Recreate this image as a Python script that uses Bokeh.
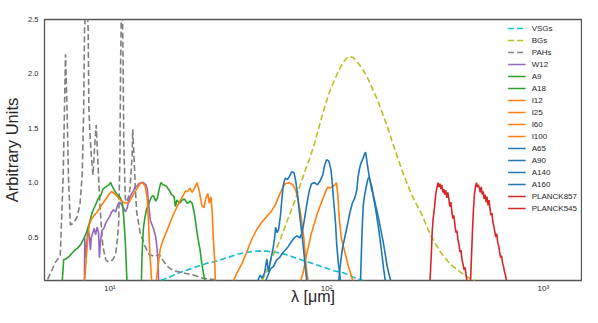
from bokeh.plotting import figure
from bokeh.models import FixedTicker, Legend, LegendItem, Range1d
from bokeh.embed import file_html
from bokeh.resources import INLINE

# ---------------- data: (wavelength [um], arbitrary units) ----------------
vsgs = [(17.2,0.10),(18.8,0.13),(20.8,0.17),(23.0,0.20),(25.5,0.23),(28.3,0.26),(31.4,0.28),
        (34.8,0.31),(38.6,0.34),(42.8,0.36),(47.4,0.37),(52.5,0.37),(58.2,0.36),(64.5,0.34),
        (71.6,0.31),(79.3,0.28),(88.0,0.25),(97.5,0.22),(108,0.19),(120,0.17),(133,0.13),(147,0.10)]
bgs = [(50.4,0.10),(52.5,0.17),(55.3,0.29),(58.2,0.38),(61.3,0.48),(64.5,0.60),(67.9,0.72),
       (71.6,0.84),(75.4,0.97),(79.3,1.10),(83.6,1.22),(88.0,1.36),(92.6,1.52),(97.5,1.68),
       (102.6,1.82),(108.1,1.93),(113.8,2.03),(119.7,2.11),(126.1,2.16),(132.8,2.15),(139.7,2.10),
       (147.2,2.04),(154.9,1.96),(163.2,1.86),(171.8,1.76),(180.8,1.64),(190.5,1.52),(200.5,1.38),
       (222.3,1.12),(246.5,0.89),(273.2,0.72),(302.9,0.51),(335.7,0.36),(371.9,0.25),(412.2,0.18),
       (457,0.12),(485,0.10)]
pahs = [(5.17,0.11),(5.45,0.21),(5.62,0.27),(5.73,0.29),(5.91,0.33),(6.10,1.07),(6.25,2.18),
        (6.36,1.65),(6.45,1.05),(6.58,0.61),(6.81,0.63),(7.05,0.68),(7.29,0.80),(7.46,1.07),
        (7.57,1.60),(7.65,2.40),(7.73,2.60),(7.85,2.70),(7.95,2.40),(8.01,1.69),(8.09,1.47),
        (8.22,1.25),(8.37,1.07),(8.52,1.34),(8.66,1.53),(8.79,1.25),(8.96,0.89),(9.12,0.63),
        (9.30,0.41),(9.59,0.29),(9.90,0.27),(10.31,0.29),(10.64,0.34),(10.86,0.49),(11.0,0.64),
        (11.14,1.25),(11.23,2.14),(11.31,2.60),(11.43,2.60),(11.52,2.14),(11.61,1.34),(11.80,0.85),
        (12.04,0.82),(12.4,0.94),(12.68,1.25),(12.76,1.49),(12.87,1.34),(13.1,0.98),(13.3,0.74),
        (13.8,0.54),(14.5,0.42),(15.2,0.34),(16.1,0.32),(16.9,0.34),(17.4,0.30),(18.4,0.23),
        (19.7,0.19),(21.9,0.17),(24.3,0.15),(26.9,0.12),(29.8,0.11),(32.0,0.10)]
w12 = [(7.64,0.10),(7.67,0.49),(7.73,0.31),(7.81,0.40),(7.93,0.57),(8.05,0.52),(8.14,0.38),
       (8.22,0.49),(8.35,0.54),(8.48,0.58),(8.61,0.52),(8.75,0.59),(8.88,0.54),(8.96,0.31),
       (9.07,0.47),(9.21,0.56),(9.40,0.58),(9.59,0.63),(9.79,0.66),(10.0,0.69),(10.2,0.73),
       (10.4,0.75),(10.64,0.73),(10.86,0.79),(11.08,0.82),(11.31,0.80),(11.55,0.77),(11.80,0.73),
       (12.04,0.77),(12.29,0.85),(12.55,0.89),(12.81,0.92),(13.1,0.96),(13.4,0.97),(13.6,0.99),
       (13.9,1.00),(14.3,1.00),(14.7,0.98),(14.9,0.94),(15.1,0.81),(15.4,0.65),(15.9,0.58),
       (16.3,0.50),(16.5,0.41),(16.7,0.27),(16.8,0.10)]
a9 = [(6.04,0.10),(6.13,0.29),(6.29,0.30),(6.49,0.32),(6.69,0.35),(6.90,0.38),(7.12,0.40),
      (7.34,0.43),(7.57,0.48),(7.81,0.54),(8.05,0.63),(8.31,0.73),(8.57,0.79),(8.84,0.85),
      (9.12,0.89),(9.30,0.94),(9.59,0.96),(9.90,0.98),(10.1,1.00),(10.3,0.96),(10.64,0.91),
      (10.97,0.88),(11.2,0.86),(11.43,0.81),(11.61,0.67),(11.80,0.45),(12.0,0.10)]
a18 = [(14.0,0.10),(14.1,0.36),(14.3,0.58),(14.5,0.67),(14.8,0.76),(15.2,0.82),(15.6,0.87),
       (15.9,0.88),(16.3,0.83),(16.6,0.86),(16.9,0.94),(17.2,1.00),(17.6,0.98),(18.2,0.97),
       (18.8,0.93),(19.3,0.89),(19.8,0.87),(20.1,0.78),(20.4,0.84),(21.0,0.81),(21.6,0.84),
       (22.1,0.85),(22.8,0.81),(23.5,0.83),(24.0,0.81),(24.5,0.73),(25.0,0.61),(25.5,0.49),
       (26.1,0.38),(26.6,0.25),(27.2,0.14),(27.5,0.10)]
i12 = [(7.65,0.10),(7.73,0.20),(7.81,0.34),(7.93,0.49),(8.05,0.61),(8.22,0.66),(8.48,0.70),
       (8.75,0.73),(9.02,0.77),(9.30,0.81),(9.59,0.85),(9.90,0.89),(10.2,0.92),(10.5,0.90),
       (10.86,0.87),(11.2,0.84),(11.55,0.82),(11.9,0.81),(12.29,0.82),(12.68,0.87),(13.1,0.92),
       (13.5,0.96),(13.9,1.00),(14.3,0.99),(14.6,0.96),(14.9,0.85),(15.1,0.63),(15.3,0.36),(15.6,0.10)]
i25 = [(16.4,0.10),(16.8,0.27),(17.1,0.39),(17.6,0.47),(18.2,0.54),(18.8,0.61),(19.3,0.67),
       (19.9,0.73),(20.6,0.79),(21.2,0.84),(21.9,0.89),(22.3,0.92),(22.9,0.92),(23.4,0.95),
       (24.0,0.91),(24.6,0.95),(25.3,1.00),(25.9,0.92),(26.6,0.79),(27.2,0.77),(27.7,0.85),
       (28.3,0.90),(28.8,0.81),(29.3,0.87),(29.7,0.73),(30.0,0.51),(30.5,0.27),(30.7,0.10)]
i60 = [(37.3,0.10),(38.6,0.17),(40.6,0.25),(42.8,0.36),(45.0,0.47),(47.4,0.56),(49.9,0.63),
       (52.5,0.68),(55.3,0.73),(58.2,0.80),(60.7,0.89),(63.0,0.96),(64.5,0.99),(67.2,1.00),
       (69.9,0.98),(72.1,0.93),(74.0,0.84),(76.1,0.70),(78.6,0.49),(79.8,0.32),(81.0,0.18),(82.3,0.10)]
i100 = [(76.1,0.10),(78.1,0.18),(80.3,0.31),(82.9,0.43),(85.3,0.54),(88.0,0.63),(90.8,0.72),
        (93.6,0.79),(96.5,0.86),(99.6,0.93),(101.6,0.96),(103.7,0.95),(106.5,0.96),(109.2,0.98),
        (111.1,1.00),(112.7,0.89),(114.5,0.67),(117.0,0.49),(119.7,0.41),(122.9,0.32),(126.1,0.23),
        (129.4,0.16),(132.1,0.10)]
a65 = [(48.2,0.10),(49.4,0.15),(50.4,0.12),(51.8,0.17),(53.0,0.30),(54.0,0.18),(55.3,0.29),
       (56.6,0.39),(57.6,0.49),(58.2,0.59),(59.1,0.54),(60.1,0.57),(61.3,0.70),(62.3,0.86),
       (63.2,0.98),(64.5,1.04),(65.9,1.03),(67.2,1.05),(69.1,1.10),(70.8,1.09),(72.0,1.02),
       (73.4,0.90),(74.9,0.73),(76.6,0.56),(78.4,0.38),(80.0,0.20),(81.0,0.10)]
a90 = [(52.5,0.10),(53.7,0.15),(55.3,0.21),(57.0,0.23),(58.8,0.29),(60.7,0.31),(62.6,0.35),
       (64.5,0.38),(66.5,0.41),(68.5,0.45),(70.8,0.49),(73.0,0.51),(75.4,0.49),(77.0,0.54),
       (78.6,0.63),(80.2,0.74),(81.9,0.85),(83.6,0.94),(85.3,0.99),(88.0,1.00),(90.8,0.98),
       (93.6,1.02),(96.1,1.07),(98.0,1.16),(100.0,1.21),(102.4,1.20),(104.8,1.12),(106.4,0.98),
       (108.1,0.81),(110.0,0.63),(111.4,0.43),(113.2,0.27),(115.0,0.16),(116.0,0.10)]
a140 = [(113.8,0.10),(116.2,0.27),(118.5,0.40),(121.5,0.50),(124.8,0.61),(128.0,0.72),(131.5,0.81),
        (135.0,0.86),(137.9,0.93),(139.7,1.05),(142.0,1.13),(144.1,1.18),(147.2,1.22),(149.5,1.26),
        (151.4,1.28),(153.4,1.20),(155.8,1.11),(158.4,1.02),(161.5,0.94),(165.0,0.87),(168.5,0.79),
        (171.8,0.72),(175.4,0.63),(179.0,0.54),(182.7,0.45),(186.6,0.34),(190.5,0.23),(194.6,0.15),
        (197.7,0.10)]
a160 = [(143.5,0.10),(144.8,0.36),(146.0,0.58),(147.7,0.79),(150.0,0.89),(152.4,0.96),(154.9,1.03),
        (157.1,1.05),(159.8,1.00),(162.3,0.95),(165.0,0.85),(167.4,0.79),(170.1,0.70),(172.9,0.61),
        (175.4,0.52),(178.3,0.41),(180.8,0.31),(183.6,0.20),(186.6,0.10)]
planck857 = [(300.2,0.10),(304.6,0.36),(307,0.54),(310,0.66),(314.6,0.77),(318.8,0.89),(323.5,0.96),
             (326.8,1.00),(330.0,0.96),(333.5,0.99),(336.8,0.94),(340.2,0.98),(343.8,0.91),(347.3,0.94),
             (351,0.89),(355,0.93),(358.9,0.86),(362.6,0.91),(366.6,0.85),(370.5,0.78),(374.5,0.82),
             (378.6,0.73),(382.7,0.67),(386.8,0.70),(391,0.61),(395.5,0.54),(399.6,0.56),(404,0.47),
             (408.3,0.43),(412.9,0.36),(417.2,0.38),(421.7,0.29),(426.2,0.25),(430.9,0.20),(435.6,0.22),
             (440.4,0.15),(443.7,0.10)]
planck545 = [(461.8,0.10),(466.6,0.34),(471.4,0.57),(476.3,0.76),(481.2,0.89),(486.2,0.96),(491.2,1.00),
             (496.3,0.96),(501.4,0.98),(506.6,0.95),(511.8,0.91),(517.1,0.96),(522.5,0.89),(527.9,0.92),
             (533.3,0.85),(538.9,0.89),(544.4,0.82),(550.1,0.87),(555.8,0.79),(561.5,0.84),(567.4,0.76),
             (573.2,0.70),(579.2,0.72),(585.2,0.64),(591.2,0.60),(597.4,0.55),(603.5,0.50),(609.8,0.53),
             (616.1,0.45),(622.5,0.42),(628.9,0.36),(635.4,0.31),(642.0,0.33),(648.6,0.26),(655.3,0.23),
             (662.1,0.18),(668.9,0.15),(675.9,0.10)]

series_names = ["VSGs", "BGs", "PAHs", "W12", "A9", "A18", "I12", "I25", "I60", "I100",
                "A65", "A90", "A140", "A160", "PLANCK857", "PLANCK545"]
series_data = [vsgs, bgs, pahs, w12, a9, a18, i12, i25, i60, i100,
               a65, a90, a140, a160, planck857, planck545]
series_colors = ["#17becf", "#bcbd22", "#7f7f7f", "#9467bd", "#2ca02c", "#2ca02c",
                 "#ff7f0e", "#ff7f0e", "#ff7f0e", "#ff7f0e", "#1f77b4", "#1f77b4",
                 "#1f77b4", "#1f77b4", "#d62728", "#d62728"]
series_dashed = [True, True, True] + [False] * 13

x_ticks = [10, 100, 1000]
x_tick_labels = ["10¹", "10²", "10³"]
y_ticks = [0.5, 1.0, 1.5, 2.0, 2.5]
y_tick_labels = ["0.5", "1.0", "1.5", "2.0", "2.5"]

FONT = "Liberation Sans"

p = figure(width=582, height=307, x_axis_type="log",
           x_range=Range1d(5, 1500), y_range=Range1d(0.1, 2.5),
           output_backend="svg", toolbar_location=None,
           min_border_left=43, min_border_right=1, min_border_top=19, min_border_bottom=0)

p.background_fill_color = "white"
p.border_fill_color = "white"
p.outline_line_color = "#555555"
p.outline_line_width = 1.3
p.grid.visible = False

items = []
for name, data, col, dashed in zip(series_names, series_data, series_colors, series_dashed):
    xs = [d[0] for d in data]
    ys = [d[1] for d in data]
    r = p.line(xs, ys, line_color=col, line_width=1.6,
               line_dash="6 3" if dashed else "solid")
    items.append(LegendItem(label=name, renderers=[r]))

legend = Legend(items=items, location="top_right",
                border_line_color=None, background_fill_alpha=0.0,
                label_text_font=FONT, label_text_font_size="8px", label_text_color="#262626",
                glyph_width=18, glyph_height=10, label_height=10, spacing=2,
                label_standoff=6, padding=0, margin=4)
p.add_layout(legend)

for ax in (p.xaxis[0], p.yaxis[0]):
    ax.axis_line_color = None
    ax.major_tick_line_color = None
    ax.minor_tick_line_color = None
    ax.major_tick_out = 0
    ax.minor_tick_out = 0
    ax.major_label_text_font = FONT
    ax.major_label_text_color = "#262626"
    ax.axis_label_text_font = FONT
    ax.axis_label_text_font_style = "normal"
    ax.axis_label_text_color = "#262626"

p.xaxis.ticker = FixedTicker(ticks=x_ticks, minor_ticks=[])
p.xaxis.major_label_overrides = dict(zip(x_ticks, x_tick_labels))
p.xaxis.major_label_text_font_size = "8px"
p.xaxis.major_label_standoff = 3
p.xaxis.axis_label = "λ [μm]"
p.xaxis.axis_label_text_font_size = "16px"
p.xaxis.axis_label_standoff = -8

p.yaxis.ticker = FixedTicker(ticks=y_ticks, minor_ticks=[])
p.yaxis.major_label_overrides = dict(zip(y_ticks, y_tick_labels))
p.yaxis.major_label_text_font_size = "7.5px"
p.yaxis.major_label_standoff = 6
p.yaxis.axis_label = "Arbitrary Units"
p.yaxis.axis_label_text_font_size = "16.5px"
p.yaxis.axis_label_standoff = 4

open("out.html", "w").write(file_html(p, INLINE))
